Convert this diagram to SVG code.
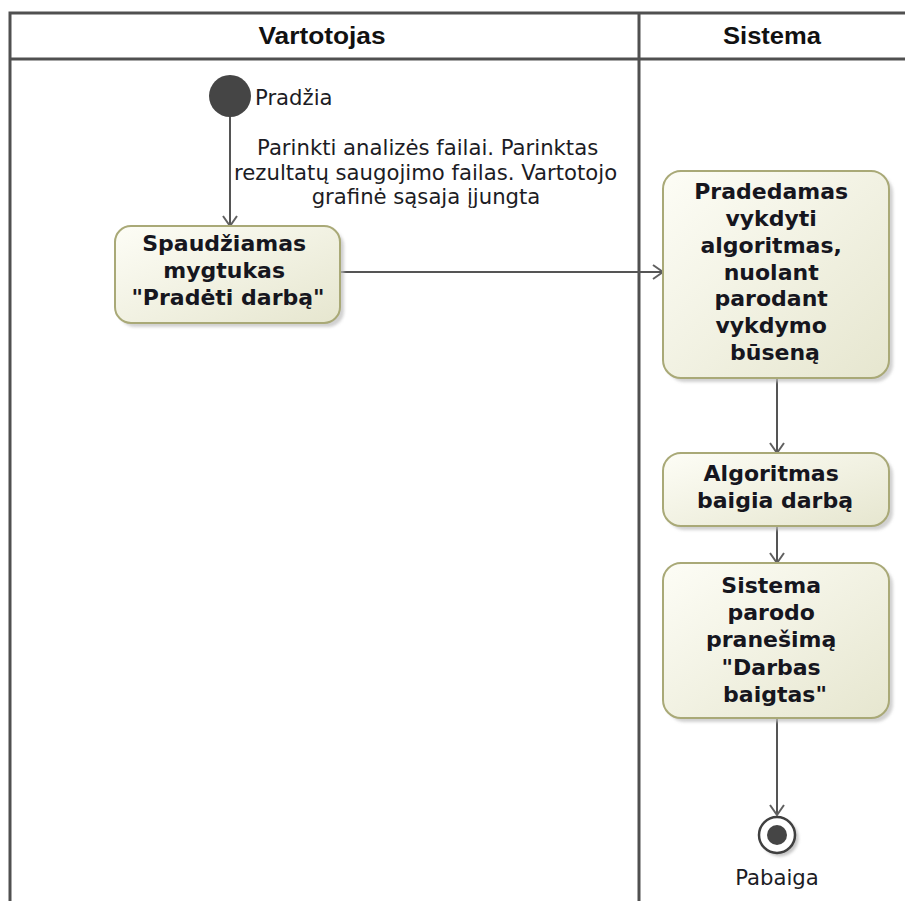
<svg xmlns="http://www.w3.org/2000/svg" width="905" height="901" viewBox="0 0 905 901">
  <style>
    .lane { fill: none; stroke: #505050; stroke-width: 3; }
    .hdr { font-family: "Liberation Sans", Arial, sans-serif; font-weight: bold; font-size: 24px; fill: #111; text-anchor: middle; }
    .act { fill: url(#actFill); stroke: #a9a977; stroke-width: 2; }
    .shadow { fill: #bdbdbd; opacity: 0.7; filter: url(#soft); }
    .lbl { font-family: "DejaVu Sans", Verdana, sans-serif; font-weight: bold; font-size: 22px; fill: #16161e; text-anchor: middle; }
    .note { font-family: "DejaVu Sans", Verdana, sans-serif; font-size: 21.2px; fill: #1c1c24; }
    .flow { fill: none; stroke: #555; stroke-width: 2; }
  </style>
  <defs>
    <linearGradient id="actFill" x1="0" y1="0" x2="1" y2="1">
      <stop offset="0" stop-color="#fdfdf6"/>
      <stop offset="1" stop-color="#e6e6cf"/>
    </linearGradient>
    <filter id="soft" x="-10%" y="-10%" width="120%" height="120%">
      <feGaussianBlur stdDeviation="1.5"/>
    </filter>
    <marker id="open" viewBox="0 0 12 16" refX="11" refY="8" markerWidth="12" markerHeight="16" markerUnits="userSpaceOnUse" orient="auto">
      <path d="M1,1 L11,8 L1,15" fill="none" stroke="#606060" stroke-width="2"/>
    </marker>
  </defs>

  <rect width="905" height="901" fill="#ffffff"/>

  <!-- swimlanes -->
  <g id="lanes">
    <path class="lane" d="M10,901 V13 H905"/>
    <path class="lane" d="M10,59 H905"/>
    <path class="lane" d="M639,13 V901"/>
    <text class="hdr" x="322" y="44" textLength="127" lengthAdjust="spacingAndGlyphs">Vartotojas</text>
    <text class="hdr" x="772" y="44" textLength="98" lengthAdjust="spacingAndGlyphs">Sistema</text>
  </g>

  <!-- connectors -->
  <g id="connectors">
    <line class="flow" x1="230" y1="117" x2="230" y2="226" marker-end="url(#open)"/>
    <line class="flow" x1="340" y1="272" x2="663" y2="272" marker-end="url(#open)"/>
    <line class="flow" x1="777" y1="378" x2="777" y2="453" marker-end="url(#open)"/>
    <line class="flow" x1="777" y1="526" x2="777" y2="563" marker-end="url(#open)"/>
    <line class="flow" x1="777" y1="718" x2="777" y2="815" marker-end="url(#open)"/>
    <text class="note" text-anchor="middle">
      <tspan x="431" y="155">Parinkti analizės failai. Parinktas</tspan>
      <tspan x="429" y="180">rezultatų saugojimo failas. Vartotojo</tspan>
      <tspan x="426" y="204">grafinė sąsaja įjungta</tspan>
    </text>
  </g>

  <!-- initial node -->
  <g id="start">
    <circle cx="230" cy="96" r="21" fill="#454545"/>
    <text class="note" x="255" y="105">Pradžia</text>
  </g>

  <!-- user action -->
  <g id="press-start">
    <rect class="shadow" x="119" y="230" width="225" height="97" rx="16"/>
    <rect class="act" x="115" y="226" width="225" height="97" rx="16"/>
    <text class="lbl">
      <tspan x="228" y="251">Spaudžiamas</tspan>
      <tspan x="228" y="278">mygtukas</tspan>
      <tspan x="228" y="305">"Pradėti darbą"</tspan>
    </text>
  </g>

  <!-- system actions -->
  <g id="run-algorithm">
    <rect class="shadow" x="667" y="175" width="226" height="207" rx="18"/>
    <rect class="act" x="663" y="171" width="226" height="207" rx="18"/>
    <text class="lbl">
      <tspan x="775" y="199">Pradedamas</tspan>
      <tspan x="775" y="226">vykdyti</tspan>
      <tspan x="775" y="253">algoritmas,</tspan>
      <tspan x="775" y="280">nuolant</tspan>
      <tspan x="775" y="306">parodant</tspan>
      <tspan x="775" y="333">vykdymo</tspan>
      <tspan x="775" y="360">būseną</tspan>
    </text>
  </g>

  <g id="algorithm-done">
    <rect class="shadow" x="667" y="457" width="226" height="73" rx="18"/>
    <rect class="act" x="663" y="453" width="226" height="73" rx="18"/>
    <text class="lbl">
      <tspan x="775" y="481">Algoritmas</tspan>
      <tspan x="775" y="508">baigia darbą</tspan>
    </text>
  </g>

  <g id="show-message">
    <rect class="shadow" x="667" y="567" width="226" height="155" rx="18"/>
    <rect class="act" x="663" y="563" width="226" height="155" rx="18"/>
    <text class="lbl">
      <tspan x="775" y="593">Sistema</tspan>
      <tspan x="775" y="620">parodo</tspan>
      <tspan x="775" y="647">pranešimą</tspan>
      <tspan x="775" y="675">"Darbas</tspan>
      <tspan x="775" y="702">baigtas"</tspan>
    </text>
  </g>

  <!-- final node -->
  <g id="end">
    <circle cx="780" cy="838" r="18.5" fill="#c4c4c4" filter="url(#soft)"/>
    <circle cx="777" cy="835" r="18" fill="#ffffff" stroke="#404040" stroke-width="2.5"/>
    <circle cx="777" cy="835" r="10" fill="#454545"/>
    <text class="note" x="777" y="885" text-anchor="middle">Pabaiga</text>
  </g>
</svg>
